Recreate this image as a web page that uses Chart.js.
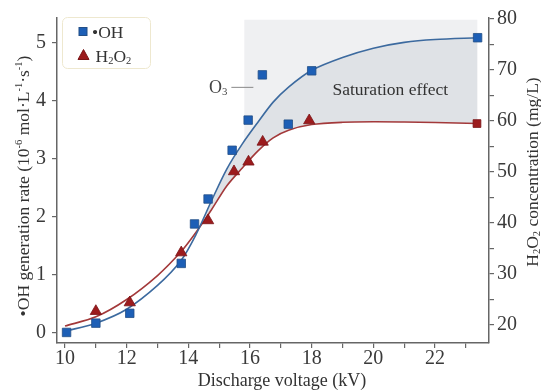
<!DOCTYPE html>
<html><head><meta charset="utf-8">
<script src="https://cdn.jsdelivr.net/npm/chart.js@4/dist/chart.umd.min.js"></script>
<style>html,body{margin:0;padding:0;background:#fff}#wrap{width:541px;height:390px}</style>
</head><body><div id="wrap"><canvas id="c" width="541" height="390"></canvas></div>
<script>
// ---- data ----
const xTicks = [10, 11, 12, 13, 14, 15, 16, 17, 18, 19, 20, 21, 22, 23];
const yLeftTicks = [0, 1, 2, 3, 4, 5];
const yRightTicks = [20, 25, 30, 35, 40, 45, 50, 55, 60, 65, 70, 75, 80];

const ohVoltage = [10.05, 11.0, 12.1, 13.77, 14.2, 14.64, 15.42, 15.94, 16.4, 17.24, 18.0, 23.38];
const ohRate    = [0.01, 0.17, 0.34, 1.2, 1.88, 2.31, 3.15, 3.67, 4.45, 3.6, 4.52, 5.09];

const h2o2Voltage = [11.0, 12.1, 13.77, 14.64, 15.48, 15.95, 16.41, 17.92, 23.36];
const h2o2Conc    = [22.7, 24.4, 34.2, 40.5, 50.1, 52.0, 55.9, 60.1, 59.5];

const fitVoltage = [10, 11, 12, 13, 13.75, 14.25, 14.75, 15.25, 15.75, 16.25, 16.75, 17.25, 18, 19, 20, 21, 22, 23.38];
const ohFit      = [0.03, 0.17, 0.41, 0.82, 1.24, 1.7, 2.28, 2.83, 3.26, 3.63, 3.98, 4.24, 4.53, 4.75, 4.91, 5.01, 5.06, 5.09];
const h2o2Fit    = [19.8, 21.6, 25.0, 29.7, 34.3, 38.2, 42.6, 47.3, 50.8, 54.1, 56.7, 58.2, 59.3, 59.75, 59.85, 59.8, 59.7, 59.5];

const saturationVoltage = [15.81, 23.38];
const saturationTop = [5.40, 5.40];
const saturationLabel = {x: 20.55, y: 4.21, text: 'Saturation effect'};
const o3PointIndex = 8; // the •OH outlier marked "O3"

const seriesLabels = ['•OH', 'H2O2'];

// ---- styling ----
const SERIF = '"Liberation Serif", "Times New Roman", serif';
const BLUE = '#1d5fb6', BLUE_EDGE = '#234f86', BLUE_LINE = '#3c6a9f';
const RED = '#9c1b1d', RED_EDGE = '#7a1416', RED_LINE = '#a3393a';
const AXIS = '#666';

function pts(xs, ys){ return xs.map((x,i)=>({x, y: ys[i]})); }

function segWidth(ctx, segs, size){
  let w = 0;
  for (const s of segs){ ctx.font = (s.k ? size*0.6 : size) + 'px ' + SERIF; w += ctx.measureText(s.t).width; }
  return w;
}
function drawRich(ctx, segs, x, y, size, rot, align, color){
  ctx.save();
  ctx.translate(x, y); ctx.rotate(rot);
  ctx.fillStyle = color; ctx.textBaseline = 'alphabetic'; ctx.textAlign = 'left';
  const w = segWidth(ctx, segs, size);
  let cx = align === 'center' ? -w/2 : (align === 'right' ? -w : 0);
  for (const s of segs){
    const fs = s.k ? size*0.6 : size;
    ctx.font = fs + 'px ' + SERIF;
    const dy = s.k === 'sup' ? -size*0.4 : (s.k === 'sub' ? size*0.12 : 0);
    ctx.fillText(s.t, cx, dy);
    cx += ctx.measureText(s.t).width;
  }
  ctx.restore();
}
const H2O2 = [{t:'H'},{t:'2',k:'sub'},{t:'O'},{t:'2',k:'sub'}];

const decor = {
  id: 'decor',
  afterDraw(chart){
    const ctx = chart.ctx, ca = chart.chartArea;
    const xs = chart.scales.x, yl = chart.scales.y;
    // Saturation effect label
    drawRich(ctx, [{t: saturationLabel.text}], xs.getPixelForValue(saturationLabel.x), yl.getPixelForValue(saturationLabel.y) + 6, 17.5, 0, 'center', '#333');
    // O3 label next to outlier
    const p = chart.getDatasetMeta(3).data[o3PointIndex];
    ctx.save();
    ctx.strokeStyle = '#888'; ctx.lineWidth = 1;
    ctx.beginPath(); ctx.moveTo(p.x - 31, p.y + 12.5); ctx.lineTo(p.x - 9, p.y + 12.5); ctx.stroke();
    ctx.restore();
    drawRich(ctx, [{t:'O'},{t:'3',k:'sub'}], p.x - 35, p.y + 18, 18, 0, 'right', '#444');
    // axis titles
    drawRich(ctx, [{t:'•OH generation rate (10'},{t:'-6',k:'sup'},{t:' mol·L'},{t:'-1',k:'sup'},{t:'·s'},{t:'-1',k:'sup'},{t:')'}],
      29, 186, 17.5, -Math.PI/2, 'center', '#333');
    drawRich(ctx, H2O2.concat([{t:' concentration (mg/L)'}]), 538, 172, 17.5, -Math.PI/2, 'center', '#333');
    drawRich(ctx, [{t:'Discharge voltage (kV)'}], 282, 386, 18, 0, 'center', '#333');
    // legend
    const lx = ca.left + 5.5, ly = ca.top - 0.5;
    ctx.save();
    ctx.fillStyle = '#fff'; ctx.strokeStyle = '#eee8cf'; ctx.lineWidth = 1;
    ctx.beginPath(); ctx.roundRect(lx, ly, 88, 51, 5); ctx.fill(); ctx.stroke();
    // square
    ctx.fillStyle = BLUE; ctx.strokeStyle = BLUE_EDGE;
    ctx.fillRect(lx + 16.5, ly + 10, 8, 8); ctx.strokeRect(lx + 16.5, ly + 10, 8, 8);
    // triangle
    ctx.fillStyle = RED; ctx.strokeStyle = RED_EDGE;
    ctx.beginPath(); ctx.moveTo(lx + 21, ly + 32); ctx.lineTo(lx + 26.5, ly + 42); ctx.lineTo(lx + 15.5, ly + 42); ctx.closePath(); ctx.fill(); ctx.stroke();
    ctx.restore();
    drawRich(ctx, [{t: seriesLabels[0]}], lx + 29.5, ly + 20, 17.5, 0, 'left', '#333');
    drawRich(ctx, H2O2, lx + 33, ly + 44, 17.5, 0, 'left', '#333');
  }
};

const tickFont = {family: SERIF, size: 20, lineHeight: 1};
const gridCfg = {display: true, drawOnChartArea: false, drawTicks: true, tickLength: 5, color: AXIS, lineWidth: 1.2};
const borderCfg = {display: true, color: AXIS, width: 1.5};

new Chart(document.getElementById('c'), {
  type: 'line',
  data: {
    datasets: [
      { label: 'shade', data: pts(saturationVoltage, saturationTop), yAxisID: 'y',
        borderColor: 'rgba(0,0,0,0)', borderWidth: 0, pointRadius: 0, order: 10,
        fill: {target: 2, above: '#eff0f2', below: '#eff0f2'} },
      { label: 'ohFit', data: pts(fitVoltage, ohFit), yAxisID: 'y',
        borderColor: BLUE_LINE, borderWidth: 1.6, pointRadius: 0, tension: 0.3, order: 5,
        fill: {target: 2, above: '#dfe2e6', below: 'rgba(0,0,0,0)'} },
      { label: 'h2o2Fit', data: pts(fitVoltage, h2o2Fit), yAxisID: 'y2',
        borderColor: RED_LINE, borderWidth: 1.6, pointRadius: 0, tension: 0.3, order: 6, fill: false },
      { label: seriesLabels[0], data: pts(ohVoltage, ohRate), yAxisID: 'y', showLine: false,
        pointStyle: 'rect', pointRadius: 6, backgroundColor: BLUE, borderColor: BLUE_EDGE, borderWidth: 0.8, order: 1 },
      { label: seriesLabels[1], data: pts(h2o2Voltage, h2o2Conc), yAxisID: 'y2', showLine: false,
        pointStyle: h2o2Voltage.map((v,i)=> i === h2o2Voltage.length-1 ? 'rect' : 'triangle'),
        pointRadius: h2o2Voltage.map((v,i)=> i === h2o2Voltage.length-1 ? 5.5 : 6.5),
        backgroundColor: RED, borderColor: RED_EDGE, borderWidth: 0.8, order: 2 }
    ]
  },
  options: {
    responsive: false, animation: false, devicePixelRatio: 1,
    layout: {padding: {top: 18, left: 0, right: 0, bottom: 0}},
    plugins: {legend: {display: false}, tooltip: {enabled: false}, filler: {drawTime: 'beforeDatasetsDraw'}},
    scales: {
      x: { type: 'linear', position: 'bottom', min: 9.74, max: 23.75,
        afterBuildTicks: s => { s.ticks = xTicks.map(v => ({value: v})); },
        afterFit: s => { s.height = 47; },
        ticks: {font: tickFont, color: '#3a3a3a', padding: 1, maxRotation: 0, autoSkip: false,
          callback: v => (v % 2 === 0 ? String(v) : '')},
        grid: gridCfg, border: borderCfg },
      y: { type: 'linear', position: 'left', min: -0.172, max: 5.43,
        afterBuildTicks: s => { s.ticks = yLeftTicks.map(v => ({value: v})); },
        afterFit: s => { s.width = 57; },
        ticks: {font: tickFont, color: '#3a3a3a', padding: 6, callback: v => String(v)},
        grid: gridCfg, border: borderCfg },
      y2: { type: 'linear', position: 'right', min: 16.47, max: 80.2,
        afterBuildTicks: s => { s.ticks = yRightTicks.map(v => ({value: v})); },
        afterFit: s => { s.width = 52; },
        ticks: {font: tickFont, color: '#3a3a3a', padding: 3, callback: v => (v % 10 === 0 ? String(v) : '')},
        grid: gridCfg, border: borderCfg }
    }
  },
  plugins: [decor]
});
</script>
</body></html>
